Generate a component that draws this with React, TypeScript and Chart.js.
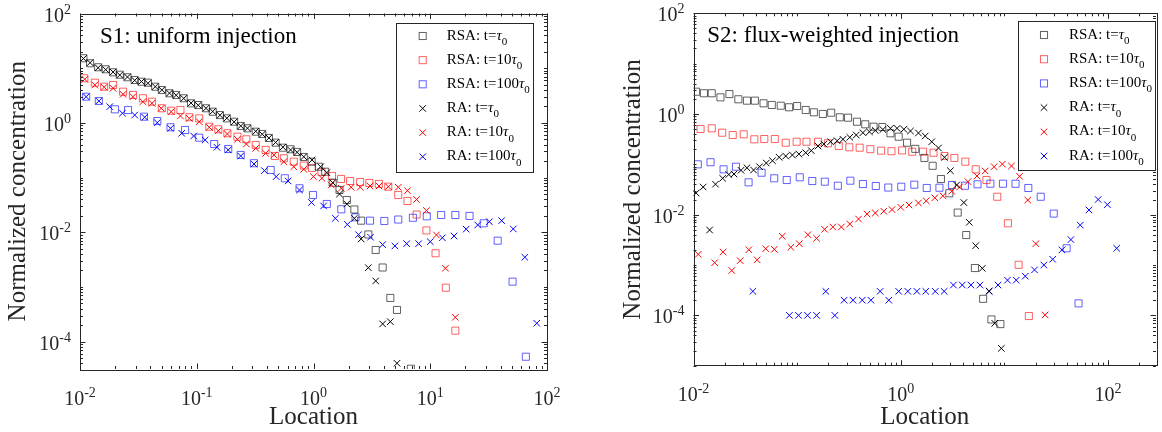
import React, { useEffect, useRef } from "react";
import { Chart, registerables } from "chart.js";

Chart.register(...registerables);

const FONT = "'Liberation Serif', 'Times New Roman', Times, serif";

// ---------------- Panel S1: uniform injection ----------------
const s1RsaT1X = [0.0107,0.0122,0.0143,0.0166,0.0192,0.0219,0.0255,0.0294,0.0336,0.0382,0.0441,0.0502,0.0584,0.0666,0.0773,0.0894,0.103,0.120,0.137,0.158,0.181,0.209,0.238,0.272,0.320,0.364,0.415,0.474,0.547,0.636,0.724,0.825,0.965,1.11,1.26,1.46,1.67,1.93,2.24,2.56,2.95,3.41,3.91,4.55,5.19,6.82];
const s1RsaT1Y = [15.2,12.3,10.4,9.55,8.41,7.60,6.82,6.08,5.66,5.43,4.59,3.99,3.48,3.24,2.82,2.28,2.12,1.85,1.60,1.39,1.21,1.05,0.878,0.796,0.690,0.627,0.530,0.435,0.352,0.329,0.294,0.238,0.195,0.158,0.128,0.0807,0.0593,0.0389,0.0261,0.0163,0.00912,0.00474,0.00227,0.00063,0.00038,3.2e-5];

const s1RsaT10X = [0.0109,0.0134,0.0161,0.0192,0.0234,0.0284,0.0346,0.0413,0.0502,0.0604,0.0725,0.0865,0.105,0.128,0.153,0.183,0.223,0.266,0.320,0.389,0.467,0.557,0.678,0.825,0.971,1.17,1.44,1.72,2.06,2.51,3.01,3.63,4.37,5.32,6.38,7.64,9.27,11.1,13.6,16.4];
const s1RsaT10Y = [6.54,5.43,4.59,4.93,3.72,3.24,2.82,2.44,1.85,1.67,1.72,1.27,1.21,0.852,0.764,0.646,0.559,0.501,0.394,0.320,0.248,0.225,0.195,0.166,0.150,0.127,0.107,0.0943,0.0867,0.0831,0.0797,0.0764,0.0682,0.0481,0.0373,0.0211,0.0108,0.00413,0.00097,0.000159];

const s1RsaT100X = [0.0113,0.0145,0.0199,0.0258,0.0353,0.0459,0.0596,0.0795,0.105,0.141,0.186,0.238,0.309,0.430,0.568,0.759,0.990,1.30,1.73,2.29,3.05,4.04,5.32,7.10,9.34,12.4,16.4,21.7,28.7,37.8,50.7,65.9];
const s1RsaT100Y = [3.01,2.51,1.77,1.72,1.30,1.08,0.831,0.742,0.536,0.411,0.333,0.259,0.183,0.138,0.0971,0.0637,0.0481,0.0329,0.0263,0.0188,0.0163,0.0161,0.0171,0.0184,0.0196,0.0207,0.0207,0.0199,0.0146,0.00702,0.00125,5.3e-5];

const s1RaT1X = [0.0107,0.0122,0.0143,0.0166,0.0192,0.0219,0.0255,0.0294,0.0336,0.0382,0.0441,0.0502,0.0584,0.0666,0.0773,0.0894,0.103,0.120,0.137,0.158,0.181,0.209,0.238,0.272,0.320,0.364,0.415,0.474,0.547,0.636,0.724,0.825,0.971,1.15,1.30,1.46,1.67,1.93,2.24,2.56,2.95,3.41,3.91,4.55,5.19];
const s1RaT1Y = [15.0,12.6,10.2,9.4,8.5,7.5,6.9,6.0,5.7,5.3,4.6,4.0,3.5,3.2,2.8,2.3,2.1,1.85,1.62,1.38,1.22,1.04,0.88,0.80,0.70,0.62,0.53,0.44,0.36,0.32,0.29,0.24,0.210,0.158,0.123,0.0807,0.0501,0.0329,0.0180,0.00754,0.00225,0.00129,0.000211,0.000232,4.03e-5];

const s1RaT10X = [0.0110,0.0134,0.0161,0.0192,0.0234,0.0284,0.0346,0.0413,0.0497,0.0604,0.0725,0.0865,0.105,0.128,0.153,0.183,0.223,0.266,0.320,0.389,0.458,0.557,0.678,0.825,1.00,1.18,1.42,1.73,2.10,2.51,3.05,3.64,4.37,5.32,6.38,7.64,9.27,11.3,13.5,16.4];
const s1RaT10Y = [6.27,4.93,4.48,4.29,3.33,3.01,2.44,2.28,1.85,1.60,1.34,1.21,1.05,0.831,0.720,0.627,0.501,0.411,0.343,0.278,0.259,0.195,0.158,0.142,0.104,0.0971,0.0733,0.0637,0.0665,0.0665,0.0702,0.0702,0.0682,0.0665,0.0576,0.0398,0.025,0.00893,0.0022,0.000279];

const s1RaT100X = [0.0113,0.0145,0.0180,0.0231,0.0294,0.0358,0.0459,0.0596,0.0744,0.0941,0.118,0.149,0.186,0.238,0.309,0.380,0.479,0.606,0.759,0.960,1.22,1.54,1.95,2.43,3.08,3.91,4.98,6.28,7.95,10.0,12.7,16.0,20.3,25.5,32.1,40.9,51.4,64.6,81.7];
const s1RaT100Y = [3.01,2.51,1.98,1.50,1.39,1.27,1.01,0.796,0.646,0.576,0.487,0.358,0.320,0.248,0.177,0.134,0.104,0.0867,0.0593,0.0351,0.0303,0.0180,0.0139,0.00904,0.00813,0.00593,0.00562,0.00619,0.00619,0.00673,0.00793,0.00856,0.0114,0.0136,0.0156,0.0163,0.0115,0.00349,0.000217];

// ---------------- Panel S2: flux-weighted injection ----------------
const s2RsaT1X = [0.0106,0.0126,0.0150,0.0182,0.0222,0.0271,0.0328,0.0391,0.0474,0.0569,0.0695,0.0836,0.100,0.121,0.145,0.177,0.213,0.258,0.310,0.378,0.454,0.546,0.663,0.795,0.954,1.15,1.38,1.69,2.03,2.44,2.94,3.54,4.28,5.19,6.23,7.49,9.14];
const s2RsaT1Y = [2.77,2.58,2.58,2.14,2.49,1.96,1.84,1.84,1.63,1.51,1.46,1.36,1.44,1.20,1.08,1.00,1.06,0.859,0.844,0.702,0.624,0.559,0.551,0.413,0.354,0.269,0.203,0.134,0.0935,0.0511,0.0266,0.0110,0.00394,0.000871,0.000213,8.3e-5,6.7e-5];

const s2RsaT10X = [0.0117,0.0150,0.0189,0.0239,0.0305,0.0386,0.0482,0.0609,0.0776,0.0989,0.123,0.159,0.198,0.252,0.319,0.401,0.509,0.646,0.813,1.03,1.29,1.64,2.07,2.64,3.29,4.19,5.28,6.71,8.53,10.8,13.7,17.2];
const s2RsaT10Y = [0.503,0.519,0.425,0.382,0.395,0.314,0.318,0.318,0.269,0.281,0.281,0.281,0.262,0.231,0.218,0.214,0.200,0.187,0.182,0.189,0.178,0.178,0.170,0.146,0.134,0.113,0.0796,0.0488,0.0227,0.00674,0.00101,9.7e-5];

const s2RsaT100X = [0.0110,0.0146,0.0195,0.0257,0.0340,0.0454,0.0601,0.0793,0.106,0.140,0.185,0.247,0.326,0.431,0.574,0.757,1.01,1.35,1.78,2.36,3.12,4.16,5.50,7.32,9.69,12.8,17.0,22.4,29.9,39.8,51.9];
const s2RsaT100Y = [0.100,0.110,0.0796,0.0897,0.0439,0.0682,0.0528,0.0488,0.0552,0.0466,0.0452,0.0376,0.0473,0.0406,0.0371,0.0346,0.0359,0.0394,0.0339,0.0343,0.0388,0.0376,0.0401,0.0412,0.0412,0.0411,0.0339,0.0227,0.0105,0.00215,0.000173];

const s2RaT1X = [0.0106,0.0124,0.0143,0.0163,0.0191,0.0219,0.0246,0.0287,0.0328,0.0380,0.0434,0.0504,0.0578,0.0671,0.0776,0.0900,0.104,0.121,0.137,0.159,0.181,0.210,0.243,0.277,0.322,0.372,0.431,0.498,0.568,0.671,0.795,0.920,1.07,1.24,1.48,1.72,1.99,2.31,2.64,3.01,3.46,4.06,4.58,5.28,6.12,7.12,8.07,9.34];
const s2RaT1Y = [0.0269,0.0354,0.00496,0.0403,0.0528,0.0628,0.0642,0.0761,0.0853,0.0771,0.0897,0.106,0.118,0.138,0.146,0.153,0.160,0.170,0.187,0.231,0.253,0.281,0.294,0.314,0.344,0.382,0.425,0.443,0.470,0.492,0.519,0.519,0.497,0.459,0.419,0.365,0.281,0.211,0.138,0.0747,0.0388,0.0174,0.00705,0.00242,0.00086,0.000304,6.95e-5,2.21e-5];

const s2RaT10X = [0.0111,0.0160,0.0193,0.0234,0.0282,0.0342,0.0411,0.0498,0.0602,0.0718,0.0870,0.105,0.127,0.154,0.184,0.221,0.267,0.322,0.391,0.473,0.568,0.685,0.823,1.00,1.20,1.48,1.76,2.13,2.55,3.10,3.69,4.45,5.43,6.52,7.95,9.55,11.7,14.0,16.8,20.1,24.7];
const s2RaT10Y = [0.00163,0.00111,0.00181,0.000777,0.00122,0.00201,0.00127,0.00211,0.00205,0.00372,0.00225,0.00265,0.0040,0.00339,0.00512,0.00569,0.00569,0.00652,0.0082,0.0103,0.0108,0.0117,0.0126,0.0140,0.0156,0.0171,0.0188,0.0216,0.0237,0.0292,0.0354,0.0452,0.0586,0.0737,0.0897,0.101,0.0926,0.0578,0.0195,0.00265,0.000102];

const s2RaT100X = [0.0374,0.0842,0.103,0.126,0.154,0.189,0.231,0.284,0.346,0.425,0.515,0.632,0.766,0.954,1.17,1.43,1.74,2.15,2.62,3.22,3.92,4.75,5.80,7.12,8.68,10.7,13.0,15.9,19.5,24.0,29.2,35.9,43.8,53.9,65.4,80.2,98.5,121];
const s2RaT100Y = [3e-4,1e-4,1e-4,1e-4,1e-4,3e-4,1e-4,2e-4,2e-4,2e-4,2e-4,3e-4,2e-4,3e-4,3e-4,3e-4,3e-4,3e-4,3e-4,4e-4,4e-4,4e-4,4e-4,3e-4,4e-4,5e-4,5e-4,6e-4,8e-4,1e-3,1.3e-3,2e-3,3.2e-3,6.2e-3,0.0124,0.02,0.0158,0.00215];

// ---------------- labels ----------------
const legendPrefixes = ["RSA: t=", "RSA: t=10", "RSA: t=100", "RA: t=", "RA: t=10", "RA: t=100"];
const s1XTickExps = [-2, -1, 0, 1, 2];
const s1YTickExps = [2, 0, -2, -4];
const s2XTickExps = [-2, 0, 2];
const s2YTickExps = [2, 0, -2, -4];
const s1Title = "S1: uniform injection";
const s2Title = "S2: flux-weighted injection";
const xTitle = "Location";
const yTitle = "Normalized concentration";

// ---------------- styles ----------------
const squareColors = ["rgba(0,0,0,0.62)", "rgba(255,0,0,0.62)", "rgba(0,0,255,0.62)"];
const crossColors = ["#000000", "#ff0000", "#0000ff"];
const AXIS_COLOR = "#262626";
const SQ_R = 5;
const X_R = 4.6;

type Series = { x: number[]; y: number[] };
type PanelCfg = {
  left: number;
  width: number;
  area: { l: number; r: number; t: number; b: number };
  xMin: number; xMax: number; yMin: number; yMax: number;
  xExps: number[]; yExps: number[];
  series: Series[];
  title: string; titleX: number; titleY: number;
  yTitleX: number;
  legend: { x: number; y: number; w: number; h: number; mx: number; tx: number; row0: number; dy: number };
};

const H = 432;

const panels: PanelCfg[] = [
  {
    left: 0, width: 581,
    area: { l: 80, r: 547, t: 13.5, b: 369 },
    xMin: 0.01, xMax: 100, yMin: 3.1623e-5, yMax: 100,
    xExps: s1XTickExps, yExps: s1YTickExps,
    series: [
      { x: s1RsaT1X, y: s1RsaT1Y }, { x: s1RsaT10X, y: s1RsaT10Y }, { x: s1RsaT100X, y: s1RsaT100Y },
      { x: s1RaT1X, y: s1RaT1Y }, { x: s1RaT10X, y: s1RaT10Y }, { x: s1RaT100X, y: s1RaT100Y },
    ],
    title: s1Title, titleX: 100, titleY: 42.5,
    yTitleX: 25,
    legend: { x: 396, y: 22.7, w: 137, h: 149, mx: 422.7, tx: 446.7, row0: 36, dy: 24.15 },
  },
  {
    left: 581, width: 581,
    area: { l: 112.5, r: 578.3, t: 13.3, b: 365.7 },
    xMin: 0.01, xMax: 290, yMin: 1e-5, yMax: 100,
    xExps: s2XTickExps, yExps: s2YTickExps,
    series: [
      { x: s2RsaT1X, y: s2RsaT1Y }, { x: s2RsaT10X, y: s2RsaT10Y }, { x: s2RsaT100X, y: s2RsaT100Y },
      { x: s2RaT1X, y: s2RaT1Y }, { x: s2RaT10X, y: s2RaT10Y }, { x: s2RaT100X, y: s2RaT100Y },
    ],
    title: s2Title, titleX: 126.3, titleY: 41.5,
    yTitleX: 59,
    legend: { x: 437, y: 21, w: 137, h: 149, mx: 463, tx: 488, row0: 35, dy: 24.2 },
  },
];

function drawSquare(ctx: CanvasRenderingContext2D, x: number, y: number, color: string) {
  const s = Math.SQRT1_2 * SQ_R;
  ctx.strokeStyle = color;
  ctx.lineWidth = 1;
  ctx.strokeRect(x - s, y - s, 2 * s, 2 * s);
}
function drawCross(ctx: CanvasRenderingContext2D, x: number, y: number, color: string) {
  const s = Math.SQRT1_2 * X_R;
  ctx.strokeStyle = color;
  ctx.lineWidth = 1;
  ctx.beginPath();
  ctx.moveTo(x - s, y - s); ctx.lineTo(x + s, y + s);
  ctx.moveTo(x + s, y - s); ctx.lineTo(x - s, y + s);
  ctx.stroke();
}

function drawPow(ctx: CanvasRenderingContext2D, x: number, baseY: number, exp: number, align: "center" | "right") {
  const big = `20px ${FONT}`;
  const small = `14px ${FONT}`;
  const expStr = String(exp);
  ctx.font = big;
  const w1 = ctx.measureText("10").width;
  ctx.font = small;
  const w2 = ctx.measureText(expStr).width;
  const total = w1 + w2;
  const x0 = align === "center" ? x - total / 2 : x - total;
  ctx.textAlign = "left";
  ctx.textBaseline = "alphabetic";
  ctx.fillStyle = "#262626";
  ctx.font = big;
  ctx.fillText("10", x0, baseY);
  ctx.font = small;
  ctx.fillText(expStr, x0 + w1, baseY - 8);
}

function logTicks(min: number, max: number) {
  const out: { v: number; e: number; m: number }[] = [];
  for (let e = Math.floor(Math.log10(min)) - 1; e <= Math.ceil(Math.log10(max)); e++) {
    for (let m = 1; m <= 9; m++) {
      const v = m * Math.pow(10, e);
      if (v >= min * 0.9999 && v <= max * 1.0001) out.push({ v, e, m });
    }
  }
  return out;
}

function makePlugin(p: PanelCfg) {
  return {
    id: "matlabAxes",
    afterDatasetsDraw(chart: any) {
      const ctx: CanvasRenderingContext2D = chart.ctx;
      const a = chart.chartArea;
      const xs = chart.scales.x;
      const ys = chart.scales.y;
      ctx.save();
      // box
      ctx.strokeStyle = AXIS_COLOR;
      ctx.lineWidth = 1;
      ctx.strokeRect(Math.round(a.left) + 0.5, Math.round(a.top) + 0.5, Math.round(a.right - a.left), Math.round(a.bottom - a.top));
      // ticks
      ctx.beginPath();
      for (const t of logTicks(p.xMin, p.xMax)) {
        const px = Math.round(xs.getPixelForValue(t.v)) + 0.5;
        const major = t.m === 1 && p.xExps.includes(t.e);
        const len = major ? 5.5 : 3;
        ctx.moveTo(px, a.bottom); ctx.lineTo(px, a.bottom - len);
        ctx.moveTo(px, a.top); ctx.lineTo(px, a.top + len);
      }
      for (const t of logTicks(p.yMin, p.yMax)) {
        const py = Math.round(ys.getPixelForValue(t.v)) + 0.5;
        const major = t.m === 1 && p.yExps.includes(t.e);
        const len = major ? 5.5 : 3;
        ctx.moveTo(a.left, py); ctx.lineTo(a.left + len, py);
        ctx.moveTo(a.right, py); ctx.lineTo(a.right - len, py);
      }
      ctx.stroke();
      // tick labels
      for (const e of p.xExps) {
        drawPow(ctx, xs.getPixelForValue(Math.pow(10, e)), a.bottom + 35.5, e, "center");
      }
      for (const e of p.yExps) {
        drawPow(ctx, a.left - 9, ys.getPixelForValue(Math.pow(10, e)) + 8, e, "right");
      }
      // axis titles
      ctx.fillStyle = "#262626";
      ctx.font = `25px ${FONT}`;
      ctx.textAlign = "center";
      ctx.textBaseline = "alphabetic";
      ctx.fillText(xTitle, (a.left + a.right) / 2, 424);
      ctx.save();
      ctx.translate(p.yTitleX, (a.top + a.bottom) / 2);
      ctx.rotate(-Math.PI / 2);
      ctx.fillText(yTitle, 0, 0);
      ctx.restore();
      // panel title
      ctx.fillStyle = "#000";
      ctx.font = `23px ${FONT}`;
      ctx.textAlign = "left";
      ctx.fillText(p.title, p.titleX, p.titleY);
      // legend
      const L = p.legend;
      ctx.fillStyle = "#ffffff";
      ctx.fillRect(L.x, L.y, L.w, L.h);
      ctx.strokeStyle = AXIS_COLOR;
      ctx.lineWidth = 1;
      ctx.strokeRect(Math.round(L.x) + 0.5, Math.round(L.y) + 0.5, L.w, L.h);
      legendPrefixes.forEach((pre, i) => {
        const ry = L.row0 + i * L.dy;
        if (i < 3) drawSquare(ctx, L.mx, ry, squareColors[i]);
        else drawCross(ctx, L.mx, ry, crossColors[i - 3]);
        ctx.fillStyle = "#000";
        ctx.textAlign = "left";
        ctx.font = `15px ${FONT}`;
        ctx.fillText(pre, L.tx, ry + 3.5);
        const w1 = ctx.measureText(pre).width;
        ctx.font = `italic 15px ${FONT}`;
        ctx.fillText("τ", L.tx + w1, ry + 3.5);
        const w2 = ctx.measureText("τ").width;
        ctx.font = `11px ${FONT}`;
        ctx.fillText("0", L.tx + w1 + w2, ry + 9);
      });
      ctx.restore();
    },
  };
}

function Panel({ p }: { p: PanelCfg }) {
  const ref = useRef<HTMLCanvasElement>(null);
  useEffect(() => {
    const canvas = ref.current!;
    const datasets = p.series.map((s, i) => {
      const isSq = i < 3;
      return {
        label: legendPrefixes[i],
        data: s.x.map((x, k) => ({ x, y: s.y[k] })),
        showLine: false,
        pointStyle: isSq ? "rect" : "crossRot",
        pointRadius: isSq ? SQ_R : X_R,
        pointBorderWidth: 1,
        borderWidth: 1,
        pointBackgroundColor: "rgba(0,0,0,0)",
        backgroundColor: "rgba(0,0,0,0)",
        borderColor: isSq ? squareColors[i] : crossColors[i - 3],
        pointBorderColor: isSq ? squareColors[i] : crossColors[i - 3],
        clip: 0,
        order: isSq ? 2 : 1,
      };
    });
    const chart = new Chart(canvas, {
      type: "scatter",
      data: { datasets: datasets as any },
      options: {
        animation: false,
        responsive: false,
        events: [],
        layout: {
          padding: { left: p.area.l, right: p.width - p.area.r, top: p.area.t, bottom: H - p.area.b },
        },
        plugins: { legend: { display: false }, tooltip: { enabled: false }, title: { display: false } },
        scales: {
          x: { type: "logarithmic", min: p.xMin, max: p.xMax, display: false, bounds: "data" },
          y: { type: "logarithmic", min: p.yMin, max: p.yMax, display: false, bounds: "data" },
        },
      } as any,
      plugins: [makePlugin(p)],
    });
    return () => chart.destroy();
  }, [p]);
  return (
    <div style={{ position: "absolute", left: p.left, top: 0, width: p.width, height: H }}>
      <canvas ref={ref} width={p.width} height={H} style={{ display: "block", width: p.width, height: H }} />
    </div>
  );
}

export default function App() {
  return (
    <div style={{ position: "absolute", left: 0, top: 0, width: 1162, height: H, background: "#fff" }}>
      {panels.map((p, i) => (
        <Panel key={i} p={p} />
      ))}
    </div>
  );
}
